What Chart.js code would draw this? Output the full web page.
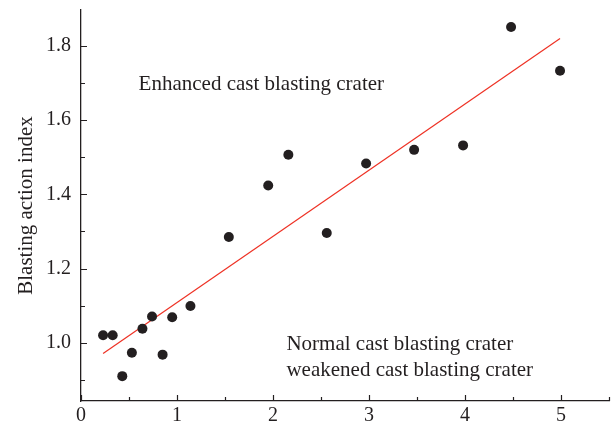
<!DOCTYPE html>
<html>
<head>
    <meta charset="UTF-8">
    <title>Blasting action index</title>
    <style>
        html, body { margin: 0; padding: 0; background: #fff; }
        #wrap { width: 614px; height: 426px; }
    </style>
</head>
<body>
    <div id="wrap"><canvas id="chart" width="614" height="426"></canvas></div>
    <script src="https://cdn.jsdelivr.net/npm/chart.js"></script>
    <script>
        // measured points (x, blasting action index)
        const xValues = [0.23, 0.33, 0.43, 0.53, 0.64, 0.74, 0.85, 0.95, 1.14, 1.54, 1.95, 2.16, 2.56, 2.97, 3.47, 3.98, 4.48, 4.99];
        const yValues = [1.02, 1.02, 0.91, 0.973, 1.038, 1.071, 0.968, 1.069, 1.099, 1.285, 1.424, 1.507, 1.296, 1.483, 1.52, 1.532, 1.851, 1.733];

        // fitted line end points
        const fitX = [0.23, 4.99];
        const fitY = [0.971, 1.82];

        const xTicks = [0, 1, 2, 3, 4, 5];
        const yTicks = [1.0, 1.2, 1.4, 1.6, 1.8];

        const notes = [
            { text: "Enhanced cast blasting crater", x: 0.6, y: 1.696 },
            { text: "Normal cast blasting crater", x: 2.14, y: 0.994 },
            { text: "weakened cast blasting crater", x: 2.14, y: 0.924 }
        ];

        const ink = "#231f20";
        const serif = "'Liberation Serif', 'DejaVu Serif', serif";

        // inward major + minor ticks and text notes
        const extras = {
            id: "extras",
            afterDraw(chart) {
                const ctx = chart.ctx;
                const xs = chart.scales.x;
                const ys = chart.scales.y;
                const area = chart.chartArea;
                ctx.save();
                ctx.strokeStyle = ink;
                ctx.lineWidth = 1.2;
                ctx.beginPath();
                for (let v = 0; v <= 5.5; v += 0.5) {
                    const px = Math.round(xs.getPixelForValue(v)) + 0.5;
                    const len = Math.abs(v - Math.round(v)) < 1e-6 ? 6 : 4;
                    ctx.moveTo(px, area.bottom);
                    ctx.lineTo(px, area.bottom - len);
                }
                for (let v = 0.9; v <= 1.85; v += 0.1) {
                    const py = Math.round(ys.getPixelForValue(v)) + 0.5;
                    const major = Math.round(v * 10) % 2 === 0;
                    ctx.moveTo(area.left, py);
                    ctx.lineTo(area.left + (major ? 6 : 4), py);
                }
                ctx.stroke();

                ctx.fillStyle = ink;
                ctx.font = "21px " + serif;
                ctx.textBaseline = "middle";
                ctx.textAlign = "left";
                notes.forEach(n => {
                    ctx.fillText(n.text, xs.getPixelForValue(n.x), ys.getPixelForValue(n.y));
                });
                ctx.restore();
            }
        };

        new Chart(document.getElementById("chart"), {
            type: "scatter",
            data: {
                datasets: [
                    {
                        label: "fit",
                        data: fitX.map((x, i) => ({ x: x, y: fitY[i] })),
                        showLine: true,
                        borderColor: "#ee3124",
                        borderWidth: 1.2,
                        pointRadius: 0,
                        order: 2
                    },
                    {
                        label: "data",
                        data: xValues.map((x, i) => ({ x: x, y: yValues[i] })),
                        backgroundColor: ink,
                        borderColor: ink,
                        pointRadius: 5,
                        borderWidth: 0,
                        order: 1
                    }
                ]
            },
            options: {
                responsive: false,
                animation: false,
                layout: { padding: { top: 10, right: 3, left: 0, bottom: 0 } },
                plugins: {
                    legend: { display: false },
                    tooltip: { enabled: false }
                },
                scales: {
                    x: {
                        type: "linear",
                        min: 0,
                        max: 5.5,
                        afterBuildTicks: s => { s.ticks = xTicks.map(v => ({ value: v })); },
                        afterFit: s => { s.height = 25; s.paddingLeft = 0; s.paddingRight = 0; },
                        grid: { display: false, drawTicks: false },
                        border: { display: true, color: ink, width: 1.3 },
                        ticks: {
                            color: ink,
                            padding: 3,
                            maxRotation: 0,
                            font: { family: serif, size: 20 }
                        }
                    },
                    y: {
                        type: "linear",
                        min: 0.843,
                        max: 1.897,
                        afterBuildTicks: s => { s.ticks = yTicks.map(v => ({ value: v })); },
                        afterFit: s => { s.width = 81; s.paddingTop = 0; s.paddingBottom = 0; },
                        grid: { display: false, drawTicks: false },
                        border: { display: true, color: ink, width: 1.3 },
                        title: {
                            display: true,
                            text: "Blasting action index",
                            color: ink,
                            padding: { top: 14, bottom: 0 },
                            font: { family: serif, size: 21 }
                        },
                        ticks: {
                            color: ink,
                            padding: 10,
                            callback: v => v.toFixed(1),
                            font: { family: serif, size: 20 }
                        }
                    }
                }
            },
            plugins: [extras]
        });
    </script>
</body>
</html>
